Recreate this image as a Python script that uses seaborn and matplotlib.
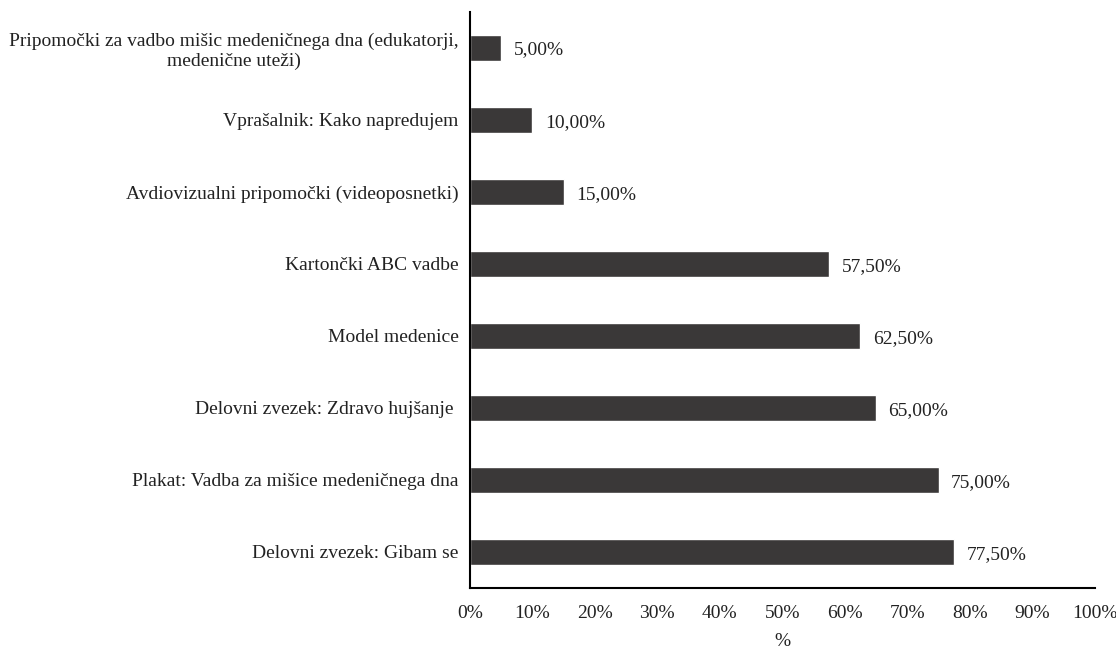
import pandas as pd
import numpy as np
import matplotlib
matplotlib.use('Agg')
import matplotlib.pyplot as plt
import seaborn as sns

# data (percent of respondents)
categories = [
    'Pripomočki za vadbo mišic medeničnega dna (edukatorji,\nmedenične uteži)',
    'Vprašalnik: Kako napredujem',
    'Avdiovizualni pripomočki (videoposnetki)',
    'Kartončki ABC vadbe',
    'Model medenice',
    'Delovni zvezek: Zdravo hujšanje ',
    'Plakat: Vadba za mišice medeničnega dna',
    'Delovni zvezek: Gibam se',
]
values = [5.0, 10.0, 15.0, 57.5, 62.5, 65.0, 75.0, 77.5]
x_ticks = [0, 10, 20, 30, 40, 50, 60, 70, 80, 90, 100]

df = pd.DataFrame({'Pripomoček': categories, 'Delez': values})

sns.set_style('white')
plt.rcParams['font.family'] = ['Liberation Serif', 'DejaVu Serif']
fs = 14

fig = plt.figure(figsize=(11.16, 6.48), dpi=100)
ax = fig.add_axes([0.421, 0.0926, 0.56, 0.889])

sns.barplot(data=df, y='Pripomoček', x='Delez', orient='h', color='#3a3838',
            width=0.37, ax=ax, saturation=1)

for i, v in enumerate(values):
    ax.text(v + 2.0, i + 0.03, f'{v:.2f}'.replace('.', ',') + '%', va='center',
            ha='left', fontsize=fs, color='#222222')

ax.set_xlim(0, 100)
ax.set_ylim(7.5, -0.5)
ax.set_xticks(x_ticks)
ax.set_xticklabels([f'{t}%' for t in x_ticks], fontsize=fs, color='#222222')
ax.tick_params(axis='y', labelsize=fs, length=0, pad=8, labelcolor='#222222')
ax.tick_params(axis='x', length=0, pad=12)
for lbl in ax.get_yticklabels():
    lbl.set_multialignment('center')
ax.set_xlabel('%', fontsize=fs, color='#222222', labelpad=8)
ax.set_ylabel('')

sns.despine(ax=ax, top=True, right=True)
ax.spines['left'].set_color('black')
ax.spines['bottom'].set_color('black')
ax.spines['left'].set_linewidth(1.5)
ax.spines['bottom'].set_linewidth(1.5)

fig.savefig('out.png', dpi=100)
